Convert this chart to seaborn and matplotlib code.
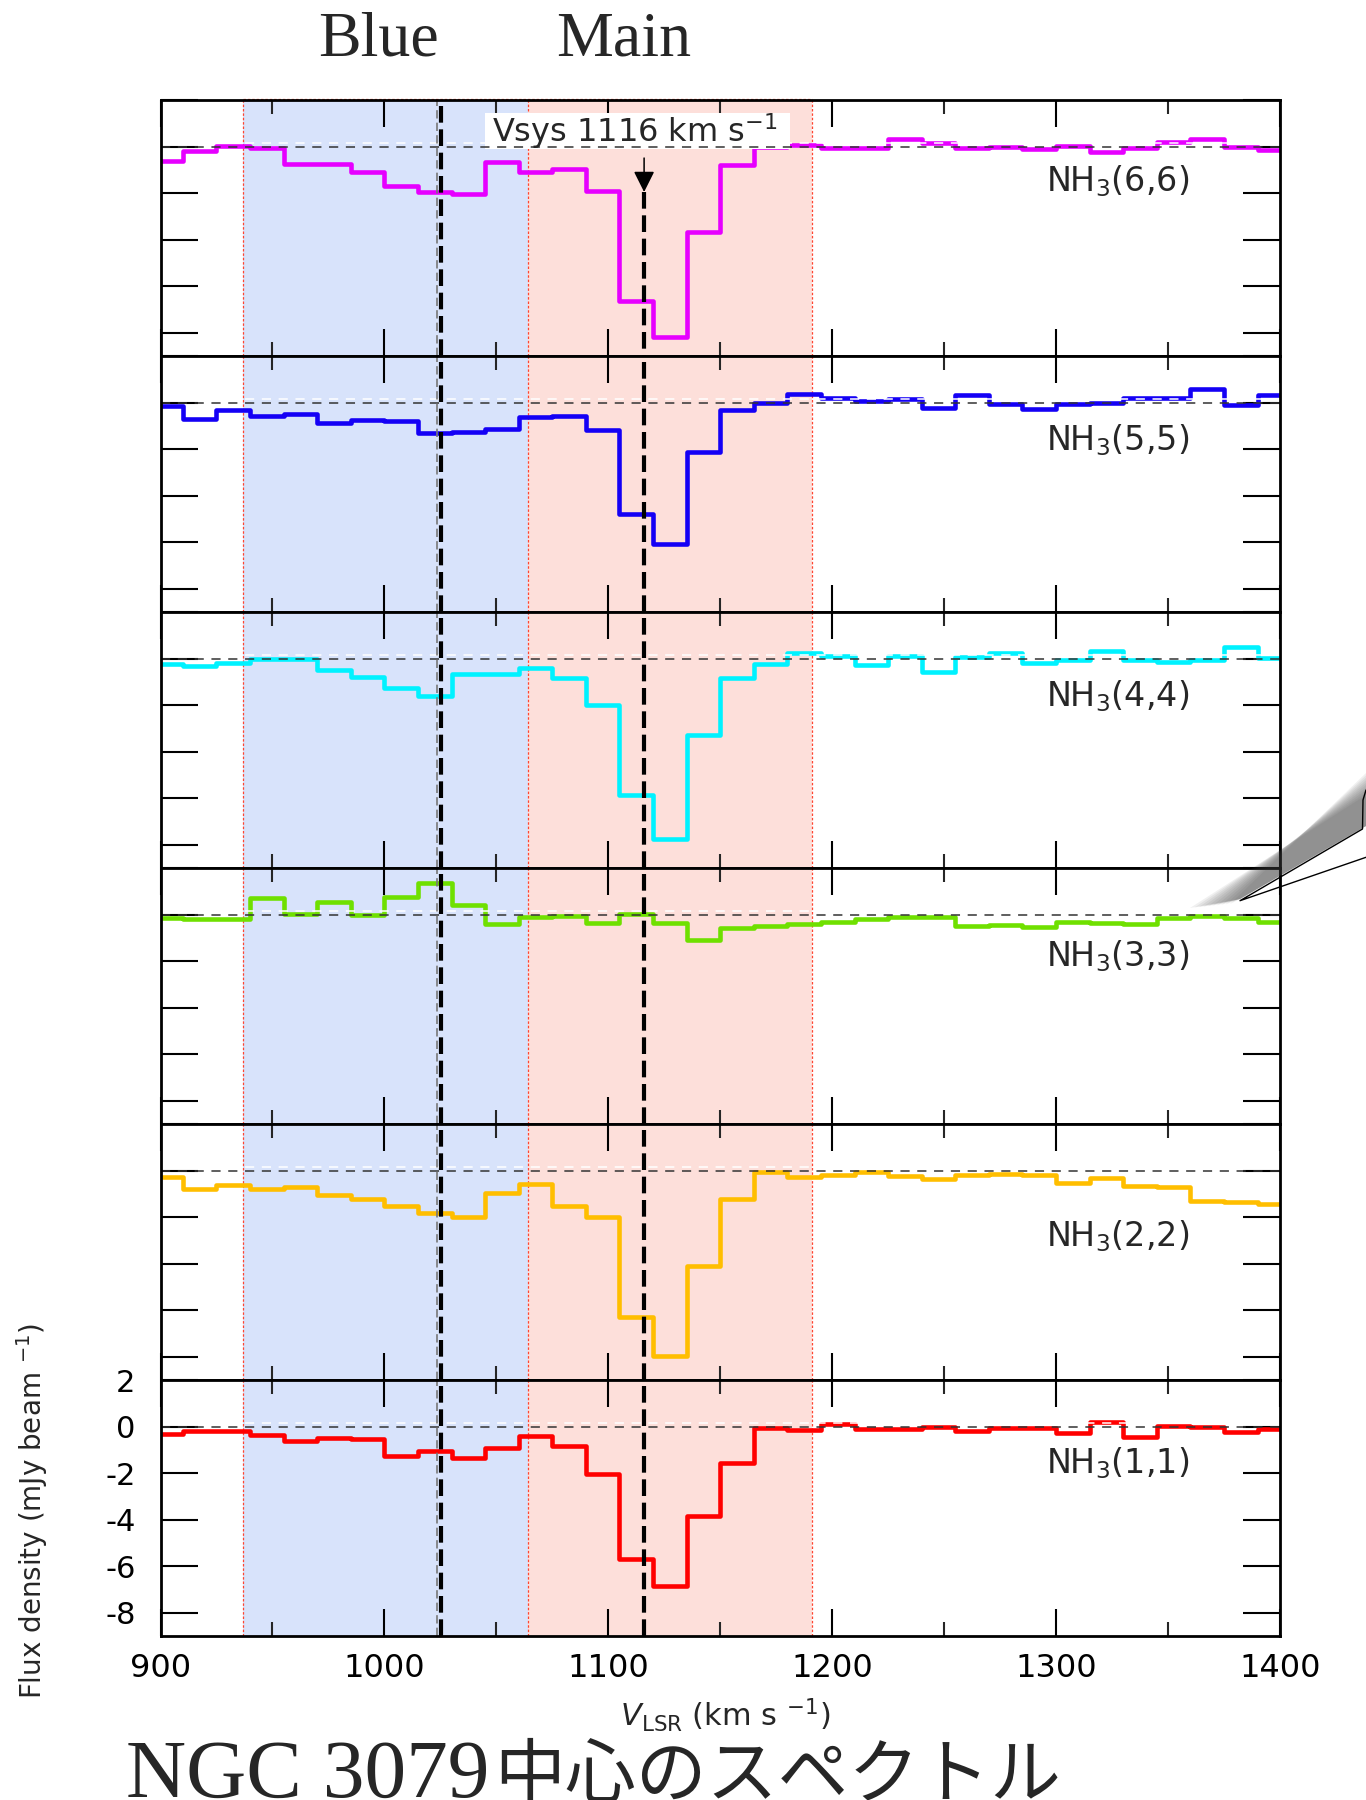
import matplotlib
matplotlib.use("Agg")
import matplotlib.pyplot as plt
import matplotlib.transforms as mtransforms
from matplotlib.patches import Rectangle, Polygon
from matplotlib.lines import Line2D
from matplotlib.ticker import MultipleLocator, FixedLocator, FixedFormatter
import seaborn as sns

# channel edges (km/s), 15 km/s channels
vel_edges = [895, 910, 925, 940, 955, 970, 985, 1000, 1015, 1030, 1045, 1060,
             1075, 1090, 1105, 1120, 1135, 1150, 1165, 1180, 1195, 1210, 1225,
             1240, 1255, 1270, 1285, 1300, 1315, 1330, 1345, 1360, 1375, 1390, 1405]

# flux density per channel (mJy/beam)
nh3_66 = [-0.60, -0.19, 0.04, -0.04, -0.73, -0.76, -1.10, -1.68, -1.96, -2.05, -0.67,
          -1.10, -0.96, -1.91, -6.64, -8.17, -3.66, -0.79, 0.00, 0.07, -0.04, -0.04,
          0.33, 0.14, -0.07, 0.00, -0.10, 0.04, -0.24, -0.07, 0.22, 0.33, -0.03, -0.14]
nh3_55 = [-0.16, -0.69, -0.33, -0.57, -0.47, -0.86, -0.73, -0.77, -1.30, -1.26, -1.12,
          -0.63, -0.57, -1.16, -4.77, -6.06, -2.12, -0.33, 0.00, 0.39, 0.20, 0.06,
          0.17, -0.23, 0.34, -0.04, -0.26, -0.04, 0.00, 0.20, 0.20, 0.57, -0.09, 0.32]
nh3_44 = [-0.24, -0.33, -0.19, -0.01, -0.01, -0.50, -0.79, -1.26, -1.61, -0.65, -0.67,
          -0.39, -0.82, -1.98, -5.85, -7.74, -3.30, -0.83, -0.24, 0.24, 0.11, -0.29,
          0.11, -0.57, 0.07, 0.24, -0.17, -0.07, 0.32, -0.04, -0.14, -0.04, 0.50, 0.03]
nh3_33 = [-0.16, -0.19, -0.20, 0.70, 0.03, 0.53, -0.03, 0.77, 1.35, 0.40, -0.40,
          -0.11, -0.04, -0.34, 0.04, -0.37, -1.09, -0.59, -0.49, -0.40, -0.32, -0.19,
          -0.09, -0.09, -0.49, -0.44, -0.54, -0.32, -0.37, -0.42, -0.13, -0.04, -0.16, -0.30]
nh3_22 = [-0.26, -0.79, -0.63, -0.77, -0.72, -1.05, -1.22, -1.51, -1.81, -1.98, -0.97,
          -0.59, -1.52, -1.99, -6.28, -7.97, -4.09, -1.22, -0.07, -0.29, -0.19, -0.06,
          -0.22, -0.36, -0.19, -0.16, -0.17, -0.54, -0.33, -0.66, -0.69, -1.30, -1.36, -1.42]
nh3_11 = [-0.32, -0.20, -0.20, -0.37, -0.63, -0.49, -0.52, -1.28, -1.03, -1.35, -0.92,
          -0.39, -0.85, -2.02, -5.68, -6.87, -3.83, -1.56, -0.06, -0.14, 0.13, -0.09,
          -0.10, -0.03, -0.17, -0.06, -0.06, -0.29, 0.20, -0.44, 0.04, 0.00, -0.24, -0.09]

spectra = [nh3_66, nh3_55, nh3_44, nh3_33, nh3_22, nh3_11]
line_names = ["NH$_3$(6,6)", "NH$_3$(5,5)", "NH$_3$(4,4)",
              "NH$_3$(3,3)", "NH$_3$(2,2)", "NH$_3$(1,1)"]
line_colors = ["#e600ff", "#1400f5", "#00f2ff", "#6fe000", "#ffbe00", "#ff0000"]
name_y = [-1.94, -2.05, -2.05, -2.24, -3.24, -1.99]

# velocity windows and reference velocities
blue_range = (937, 1064)
main_range = (1064, 1191)
v_blue = 1025.5
v_sys = 1116

yticks = [-8, -6, -4, -2, 0, 2]
ytick_labels = ["-8", "-6", "-4", "-2", "0", "2"]

sns.set_style("ticks")
plt.rcParams["font.family"] = ["DejaVu Sans"]
plt.rcParams["mathtext.default"] = "regular"
plt.rcParams["axes.unicode_minus"] = False

fig, axes = plt.subplots(6, 1, figsize=(13.66, 18), dpi=100, sharex=True,
                         gridspec_kw={"hspace": 0})
fig.subplots_adjust(left=0.1175, right=0.937, top=0.9444, bottom=0.0911)

for i, (ax, vals, name, col, ny) in enumerate(zip(axes, spectra, line_names,
                                                   line_colors, name_y)):
    ax.axvspan(*blue_range, color="#d8e3fb", lw=0, zorder=0)
    ax.axvspan(*main_range, color="#fddfda", lw=0, zorder=0)
    for v in (blue_range[0], blue_range[1], main_range[1]):
        ax.axvline(v, color="#ff4530", lw=0.9, ls=(0, (2, 1.5)), zorder=0.5)

    sns.lineplot(x=vel_edges, y=vals + [vals[-1]], drawstyle="steps-post",
                 color=col, lw=3.3, estimator=None, sort=False, ax=ax, zorder=2)

    ax.axhline(0.15, color="white", lw=1.1, ls=(0, (6, 5)), zorder=3)
    ax.axhline(0, color="#333333", lw=1.1, ls=(0, (6, 5)), zorder=3)

    ax.axvline(v_blue - 2, color="#777777", lw=1.2, ls=(0, (5, 2.5)), zorder=4)
    ax.axvline(v_blue, color="black", lw=3, ls=(0, (4, 1.6)), zorder=4)
    if i == 0:
        ax.plot([v_sys, v_sys], [-1.95, -9], color="black", lw=3,
                ls=(0, (4, 1.6)), zorder=4)
    else:
        ax.axvline(v_sys, color="black", lw=3, ls=(0, (4, 1.6)), zorder=4)

    ax.text(1295.5, ny, name, fontsize=24, va="baseline", ha="left", zorder=5)

    ax.set_xlim(900, 1400)
    ax.set_ylim(-9, 2)
    ax.set_xlabel("")
    ax.set_ylabel("")
    ax.xaxis.set_major_locator(MultipleLocator(100))
    ax.xaxis.set_minor_locator(MultipleLocator(50))
    ax.yaxis.set_major_locator(FixedLocator(yticks))
    ax.yaxis.set_major_formatter(FixedFormatter(ytick_labels))
    ax.tick_params(axis="y", which="major", direction="in", length=26.6, width=1.5,
                   left=True, right=True, labelleft=(i == 5), labelsize=22, pad=18,
                   colors="black")
    ax.tick_params(axis="x", which="major", direction="in", length=19.4, width=1.5,
                   top=True, bottom=True, labelsize=23, pad=12, colors="black")
    ax.tick_params(axis="x", which="minor", direction="in", length=10, width=1.5,
                   top=True, bottom=True)
    for sp in ax.spines.values():
        sp.set_linewidth(2)
        sp.set_color("black")
        sp.set_zorder(6)

# top panel extras: red window border, Vsys label box and arrow
top = axes[0]
top.plot([blue_range[0], main_range[1]], [2.04, 2.04], color="#ff4530", lw=0.9,
         ls=(0, (2, 1.5)), clip_on=False, zorder=5)
top.add_patch(Rectangle((1045, -0.11), 136, 1.55, facecolor="white",
                        edgecolor="none", zorder=2.5))
top.text(1048, 0.21, "Vsys 1116 km s$^{-1}$", fontsize=23, va="baseline",
         ha="left", zorder=5)
top.annotate("", xy=(v_sys, -1.95), xytext=(v_sys, -0.49),
             arrowprops=dict(arrowstyle="-|>,head_length=0.4,head_width=0.2",
                             color="black", lw=1.1, mutation_scale=32,
                             shrinkA=0, shrinkB=0), zorder=5)

# axis labels
fig.text(0.531, 0.0407, "$\\it{V}$$_{LSR}$ (km s $^{-1}$)", fontsize=22,
         ha="center", va="baseline")
fig.text(0.0232, 0.1606, "Flux density (mJy beam $^{-1}$)", fontsize=20,
         rotation=90, ha="center", va="center")

# slide texts (the title runs off the bottom edge, as in the slide)
serif = ["Liberation Serif", "Noto Sans CJK JP"]
fig.text(318 / 1366, 1 - 56 / 1800, "Blue", fontsize=46, family=serif,
         ha="left", va="baseline")
fig.text(556 / 1366, 1 - 56 / 1800, "Main", fontsize=46, family=serif,
         ha="left", va="baseline")
fig.text(126 / 1366, 1 - 1797 / 1800, "NGC 3079", fontsize=60,
         family=serif, ha="left", va="baseline")
fig.text(494 / 1366, 1 - 1797 / 1800, "中心のスペクトル", fontsize=51,
         family=["Noto Sans CJK JP"], ha="left", va="baseline")

# callout pointer at the right edge (pixel coordinates)
px = mtransforms.IdentityTransform()
H = 1800
for k in range(10):
    t = k / 9.0
    shadow = Polygon([(1190 + 40 * t, H - 908 + 4 * t),
                      (1366, H - 795 + 22 * t),
                      (1366, H - 826),
                      (1240, H - 899)],
                     closed=True, facecolor="#3a3a3a", edgecolor="none",
                     alpha=0.075, transform=px)
    fig.add_artist(shadow)
callout = Line2D([1366, 1363, 1362.5, 1240, 1366],
                 [H - 790, H - 800, H - 829, H - 900.7, H - 857.3],
                 color="black", lw=1, transform=px)
fig.add_artist(callout)

fig.savefig("out.png", dpi=100)
